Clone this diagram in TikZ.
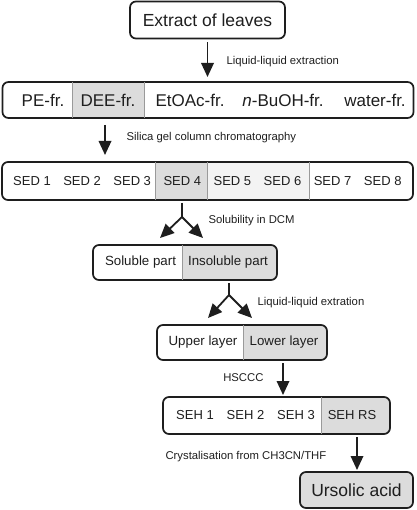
\documentclass[tikz,border=0pt]{standalone}
\usepackage{fontspec}
\setmainfont{Liberation Sans}
\usetikzlibrary{arrows.meta,backgrounds,positioning,calc}

\definecolor{ink}{HTML}{1E1E1E}
\definecolor{cellgray}{HTML}{DCDCDC}
\definecolor{celllight}{HTML}{F3F3F3}
\definecolor{linegray}{HTML}{9A9A9A}

\tikzset{
  box/.style={draw=ink, line width=1.7pt, rounded corners=6pt, inner sep=0pt, outer sep=0pt},
  flow/.style={draw=ink, line width=1.8pt, -{Triangle[length=14pt,width=12.5pt]}},
  stem/.style={draw=ink, line width=1.8pt},
  divider/.style={draw=linegray, line width=0.8pt},
  note/.style={font=\fontsize{11.3}{13}\selectfont, text=ink},
  txt/.style={font=\fontsize{13.3}{15}\selectfont, text=ink},
  bigtxt/.style={font=\fontsize{17.5}{20}\selectfont, text=ink},
}

\begin{document}
\begin{tikzpicture}[x=1pt,y=-1pt]
    \useasboundingbox (0,0) rectangle (416,510);
    % boxes
    \node[box, bigtxt, minimum width=155pt, minimum height=37pt] (leaves) at (207.5,20) {Extract of leaves};
    \node[box, minimum width=411pt, minimum height=36pt] (frac) at (208,100) {};
    \node[box, minimum width=411pt, minimum height=38pt] (sed) at (207.5,181) {};
    \node[box, minimum width=184pt, minimum height=35pt] (part) at (185,262.5) {};
    \node[box, minimum width=170pt, minimum height=35pt] (layer) at (242,342.5) {};
    \node[box, minimum width=227pt, minimum height=37pt] (seh) at (276.5,415.5) {};
    \node[box, bigtxt, fill=cellgray, minimum width=113pt, minimum height=36pt] (acid) at (356.5,490) {Ursolic acid};

    % fractions
    \node[txt, font=\fontsize{17}{20}\selectfont] (pe) at (43,100) {PE-fr.};
    \node[txt, font=\fontsize{17}{20}\selectfont] (dee) at (108,100) {DEE-fr.};
    \node[txt, font=\fontsize{17}{20}\selectfont] (etoac) at (190,100) {EtOAc-fr.};
    \node[txt, font=\fontsize{17}{20}\selectfont] (buoh) at (283,100) {\textit{n}-BuOH-fr.};
    \node[txt, font=\fontsize{17}{20}\selectfont] (water) at (375,100) {water-fr.};
    \foreach \i in {1,...,8}
      \node[txt, font=\fontsize{13}{15}\selectfont] (sed\i) at ({32+50.1*(\i-1)},181) {SED \i};
    \node[txt] (soluble) at (140.5,262.5) {Soluble part};
    \node[txt] (insoluble) at (228,262.5) {Insoluble part};
    \node[txt] (upper) at (203,342.5) {Upper layer};
    \node[txt] (lower) at (284,342.5) {Lower layer};
    \foreach \i in {1,2,3}
      \node[txt, font=\fontsize{13}{15}\selectfont] (seh\i) at ({195+50.5*(\i-1)},415.5) {SEH \i};
    \node[txt, font=\fontsize{13}{15}\selectfont] (sehrs) at (352,415.5) {SEH RS};

    % shaded cells and dividers
    \begin{pgfonlayer}{background}
      \fill[cellgray] (72,0 |- frac.north) rectangle (144,0 |- frac.south);
      \fill[cellgray] (155,0 |- sed.north) rectangle (207,0 |- sed.south);
      \fill[celllight] (207,0 |- sed.north) rectangle (309,0 |- sed.south);
      \begin{scope}
        \clip[rounded corners=6pt] (part.south west) rectangle (part.north east);
        \fill[cellgray] (182,0 |- part.north) rectangle (part.south east);
      \end{scope}
      \begin{scope}
        \clip[rounded corners=6pt] (layer.south west) rectangle (layer.north east);
        \fill[cellgray] (243,0 |- layer.north) rectangle (layer.south east);
      \end{scope}
      \begin{scope}
        \clip[rounded corners=6pt] (seh.south west) rectangle (seh.north east);
        \fill[cellgray] (321,0 |- seh.north) rectangle (seh.south east);
      \end{scope}
    \end{pgfonlayer}
    \foreach \x in {72,144}
      \draw[divider] (\x,0 |- frac.north) -- (\x,0 |- frac.south);
    \foreach \x in {155,207,309}
      \draw[divider] (\x,0 |- sed.north) -- (\x,0 |- sed.south);
    \draw[divider] (182,0 |- part.north) -- (182,0 |- part.south);
    \draw[divider] (243,0 |- layer.north) -- (243,0 |- layer.south);
    \draw[divider] (321,0 |- seh.north) -- (321,0 |- seh.south);

    % arrows
    \draw[flow, shorten <=4pt, shorten >=5pt] (leaves.south) -- (leaves.south |- frac.north);
    \node[note, anchor=west] (lle) at (223,62) {Liquid-liquid extraction};
    \draw[flow, shorten <=7pt, shorten >=7pt] ($(dee |- frac.south)+(-3,0)$) -- ($(dee |- sed.north)+(-3,0)$);
    \node[note, anchor=west] (silica) at (123,138) {Silica gel column chromatography};

    \coordinate (fork1) at (182,217);
    \coordinate (soltip) at (160,238);
    \coordinate (insoltip) at (203,238);
    \draw[stem, shorten <=3pt] (fork1 |- sed.south) -- (fork1);
    \draw[flow] (fork1) -- (soltip);
    \draw[flow] (fork1) -- (insoltip);
    \node[note, anchor=west] (dcm) at (205,221) {Solubility in DCM};

    \coordinate (fork2) at (229,295);
    \coordinate (uptip) at (208,318);
    \coordinate (lowtip) at (252,318);
    \draw[stem, shorten <=3pt] (fork2 |- part.south) -- (fork2);
    \draw[flow] (fork2) -- (uptip);
    \draw[flow] (fork2) -- (lowtip);
    \node[note, anchor=west] (llx) at (254,303) {Liquid-liquid extration};

    \draw[flow, shorten <=3pt, shorten >=2pt] (283,0 |- layer.south) -- (283,0 |- seh.north);
    \node[note, anchor=east] (hsccc) at (267,378) {HSCCC};
    \draw[flow, shorten <=3pt, shorten >=2pt] (357,0 |- seh.south) -- (357,0 |- acid.north);
    \node[note, anchor=west] (cryst) at (162,457) {Crystalisation from CH3CN/THF};
  \end{tikzpicture}
\end{document}
